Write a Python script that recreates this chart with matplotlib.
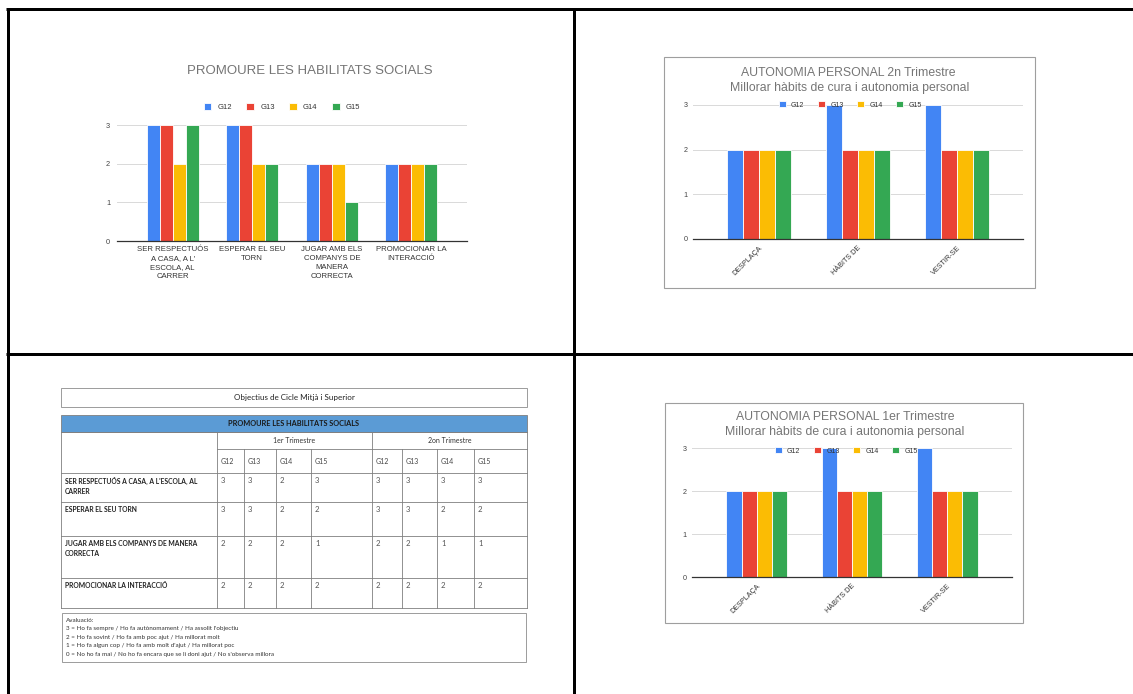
import matplotlib
matplotlib.use("Agg")
import matplotlib.pyplot as plt
from matplotlib.patches import Rectangle
import numpy as np

W, H = 1133, 694

# ---------------- dades ----------------
groups = ["G12", "G13", "G14", "G15"]
colors = ["#4285F4", "#EA4335", "#FBBC04", "#34A853"]

social_labels = [
    "SER RESPECTUÓS\nA CASA, A L'\nESCOLA, AL\nCARRER",
    "ESPERAR EL SEU\nTORN",
    "JUGAR AMB ELS\nCOMPANYS DE\nMANERA\nCORRECTA",
    "PROMOCIONAR LA\nINTERACCIÓ",
]
table_rows = [
    "SER RESPECTUÓS A CASA, A L'ESCOLA, AL\nCARRER",
    "ESPERAR EL SEU TORN",
    "JUGAR AMB ELS COMPANYS DE MANERA\nCORRECTA",
    "PROMOCIONAR LA INTERACCIÓ",
]
# files = objectius, columnes = G12..G15
social_t1 = [[3, 3, 2, 3], [3, 3, 2, 2], [2, 2, 2, 1], [2, 2, 2, 2]]
social_t2 = [[3, 3, 3, 3], [3, 3, 2, 2], [2, 2, 1, 1], [2, 2, 2, 2]]

auto_labels = ["DESPLAÇA", "HÀBITS DE", "VESTIR-SE"]
# files = grups, columnes = objectius
auto_t1 = [[2, 3, 3], [2, 2, 2], [2, 2, 2], [2, 2, 2]]
auto_t2 = [[2, 3, 3], [2, 2, 2], [2, 2, 2], [2, 2, 2]]

eval_lines = [
    "Avaluació:",
    "3 = Ho fa sempre / Ho fa autònomament / Ha assolit l'objectiu",
    "2 = Ho fa sovint / Ho fa amb poc ajut / Ha millorat molt",
    "1 = Ho fa algun cop / Ho fa amb molt d'ajut / Ha millorat poc",
    "0 = No ho fa mai / No ho fa encara que se li doni ajut / No s'observa millora",
]

plt.rcParams["font.family"] = ["Liberation Sans", "DejaVu Sans"]
TITLE_C = "#757575"
TICK_C = "#444444"

fig = plt.figure(figsize=(W / 100, H / 100), dpi=100)

# fons en coordenades de pixel
bg = fig.add_axes([0, 0, 1, 1])
bg.set_xlim(0, W)
bg.set_ylim(H, 0)
bg.axis("off")


def px_axes(left, top, right, bottom):
    return fig.add_axes([left / W, 1 - bottom / H, (right - left) / W, (bottom - top) / H])


def fxy(x, y):
    return x / W, 1 - y / H


# ---------------- quadricula negra ----------------
lw_black = 3 * 72 / 100
bg.plot([7.5, 7.5], [8.5, H], color="black", lw=lw_black, solid_capstyle="butt")
bg.plot([6, W], [8.5, 8.5], color="black", lw=lw_black, solid_capstyle="butt")
bg.plot([573.5, 573.5], [8.5, H], color="black", lw=lw_black, solid_capstyle="butt")
bg.plot([6, W], [353.5, 353.5], color="black", lw=lw_black, solid_capstyle="butt")

# marcs dels grafics de la dreta
bg.add_patch(Rectangle((664, 57), 371, 231, facecolor="white", edgecolor="#9e9e9e", lw=0.8))
bg.add_patch(Rectangle((665, 403), 358, 220, facecolor="white", edgecolor="#9e9e9e", lw=0.8))


def bar_chart(box, values, labels, xpad, group_w):
    ax = px_axes(*box)
    n = len(groups)
    x = np.arange(len(labels))
    w = group_w / n
    for i, (g, c) in enumerate(zip(groups, colors)):
        ax.bar(x + (i - (n - 1) / 2) * w, values[i], w, color=c,
               edgecolor="white", linewidth=0.6, label=g, zorder=2)
    ax.set_xlim(-0.5 - xpad, len(labels) - 0.5 + xpad)
    ax.set_ylim(0, 3.01)
    ax.set_yticks([0, 1, 2, 3])
    ax.set_xticks(x)
    ax.grid(axis="y", color="#d9d9d9", lw=0.7, zorder=0)
    ax.set_axisbelow(True)
    for s in ["top", "right", "left"]:
        ax.spines[s].set_visible(False)
    ax.spines["bottom"].set_color("#333333")
    ax.spines["bottom"].set_linewidth(0.9)
    ax.spines["bottom"].set_zorder(3)
    ax.tick_params(length=0, labelcolor=TICK_C)
    ax.set_facecolor("none")
    return ax


def add_legend(ax, cx, cy, fs):
    h, l = ax.get_legend_handles_labels()
    ax.legend(h, l, loc="center", bbox_to_anchor=fxy(cx, cy), bbox_transform=fig.transFigure,
              ncol=4, frameon=False, fontsize=fs, handlelength=1.0, handleheight=1.0,
              handletextpad=0.8, columnspacing=1.9, borderpad=0, labelcolor="#333333")


# ---------------- grafic 1: habilitats socials (1er trimestre) ----------------
ax1 = bar_chart((117, 125, 467, 241), np.array(social_t1).T, social_labels, 0.2, 0.65)
ax1.set_xticklabels(social_labels, fontsize=5.6, linespacing=1.4, color="#333333")
ax1.tick_params(axis="x", pad=3.5)
ax1.tick_params(axis="y", labelsize=5.3, pad=5)
fig.text(*fxy(310, 71), "PROMOURE LES HABILITATS SOCIALS", ha="center", va="center",
         fontsize=9.5, color=TITLE_C)
add_legend(ax1, 282, 107, 5.5)

# ---------------- grafic 2: autonomia 2n trimestre ----------------
ax2 = bar_chart((693, 104.5, 1023, 239), auto_t2, auto_labels, 0.167, 0.64)
ax2.set_xticklabels(auto_labels, fontsize=5.2, rotation=45, ha="right",
                    rotation_mode="anchor", color="#333333")
ax2.tick_params(axis="x", pad=4)
ax2.tick_params(axis="y", labelsize=5.2, pad=4)
fig.text(*fxy(848, 73), "AUTONOMIA PERSONAL 2n Trimestre", ha="center", va="center",
         fontsize=8.8, color=TITLE_C)
fig.text(*fxy(850, 88), "Millorar hàbits de cura i autonomia personal", ha="center", va="center",
         fontsize=8.8, color=TITLE_C)
add_legend(ax2, 850, 105, 5.0)

# ---------------- grafic 3: autonomia 1er trimestre ----------------
ax3 = bar_chart((692, 448, 1012, 577), auto_t1, auto_labels, 0.18, 0.64)
ax3.set_xticklabels(auto_labels, fontsize=5.2, rotation=45, ha="right",
                    rotation_mode="anchor", color="#333333")
ax3.tick_params(axis="x", pad=4)
ax3.tick_params(axis="y", labelsize=5.2, pad=4)
fig.text(*fxy(845, 417), "AUTONOMIA PERSONAL 1er Trimestre", ha="center", va="center",
         fontsize=8.8, color=TITLE_C)
fig.text(*fxy(845, 432), "Millorar hàbits de cura i autonomia personal", ha="center", va="center",
         fontsize=8.8, color=TITLE_C)
add_legend(ax3, 846, 451, 5.0)

# ---------------- taula ----------------
TF = ["Lato", "DejaVu Sans"]
LC = "#7f7f7f"
LW = 0.6
x0, x1 = 61, 527
bg.add_patch(Rectangle((x0, 388), x1 - x0, 19, facecolor="white", edgecolor="#8c8c8c", lw=LW))
bg.text(294, 397.5, "Objectius de Cicle Mitjà i Superior", ha="center", va="center",
        fontsize=5.8, color="#222222", family=TF)

bg.add_patch(Rectangle((x0, 415), x1 - x0, 17, facecolor="#5b9bd5", edgecolor=LC, lw=LW))
bg.text(294, 423.5, "PROMOURE LES HABILITATS SOCIALS", ha="center", va="center",
        fontsize=5.3, weight="bold", color="#1a1a1a", family=TF)

col_x = [217, 244, 276, 311, 372, 402, 437, 474, 527]
row_y = [473, 502, 536, 578, 608]

bg.plot([x0, x1], [432, 432], color=LC, lw=LW)
bg.plot([217, x1], [449, 449], color=LC, lw=LW)
for y in row_y:
    bg.plot([x0, x1], [y, y], color=LC, lw=LW)
bg.plot([x0, x0], [432, row_y[-1]], color=LC, lw=LW)
for cx in col_x:
    top = 432 if cx in (217, 372, 527) else 449
    bg.plot([cx, cx], [top, row_y[-1]], color=LC, lw=LW)

bg.text((217 + 372) / 2, 440.5, "1er Trimestre", ha="center", va="center", fontsize=5,
        color="#333333", family=TF)
bg.text((372 + 527) / 2, 440.5, "2on Trimestre", ha="center", va="center", fontsize=5,
        color="#333333", family=TF)
for k in range(8):
    bg.text(col_x[k] + 4, 461, groups[k % 4], ha="left", va="center", fontsize=5,
            color="#444444", family=TF)

for r, label in enumerate(table_rows):
    top = row_y[r]
    bg.text(65, top + 3.5, label, ha="left", va="top", fontsize=4.9, weight="bold",
            color="#222222", family=TF, linespacing=1.6)
    vals = social_t1[r] + social_t2[r]
    for k, v in enumerate(vals):
        bg.text(col_x[k] + 4, top + 3.5, str(v), ha="left", va="top", fontsize=5.6,
                color="#555555", family=TF)

bg.add_patch(Rectangle((62, 613), 464, 49, facecolor="white", edgecolor="#8c8c8c", lw=LW))
for i, line in enumerate(eval_lines):
    bg.text(66, 620 + i * 8.6, line, ha="left", va="center", fontsize=4.5,
            color="#333333", family=TF)

fig.savefig("out.png", dpi=100)
